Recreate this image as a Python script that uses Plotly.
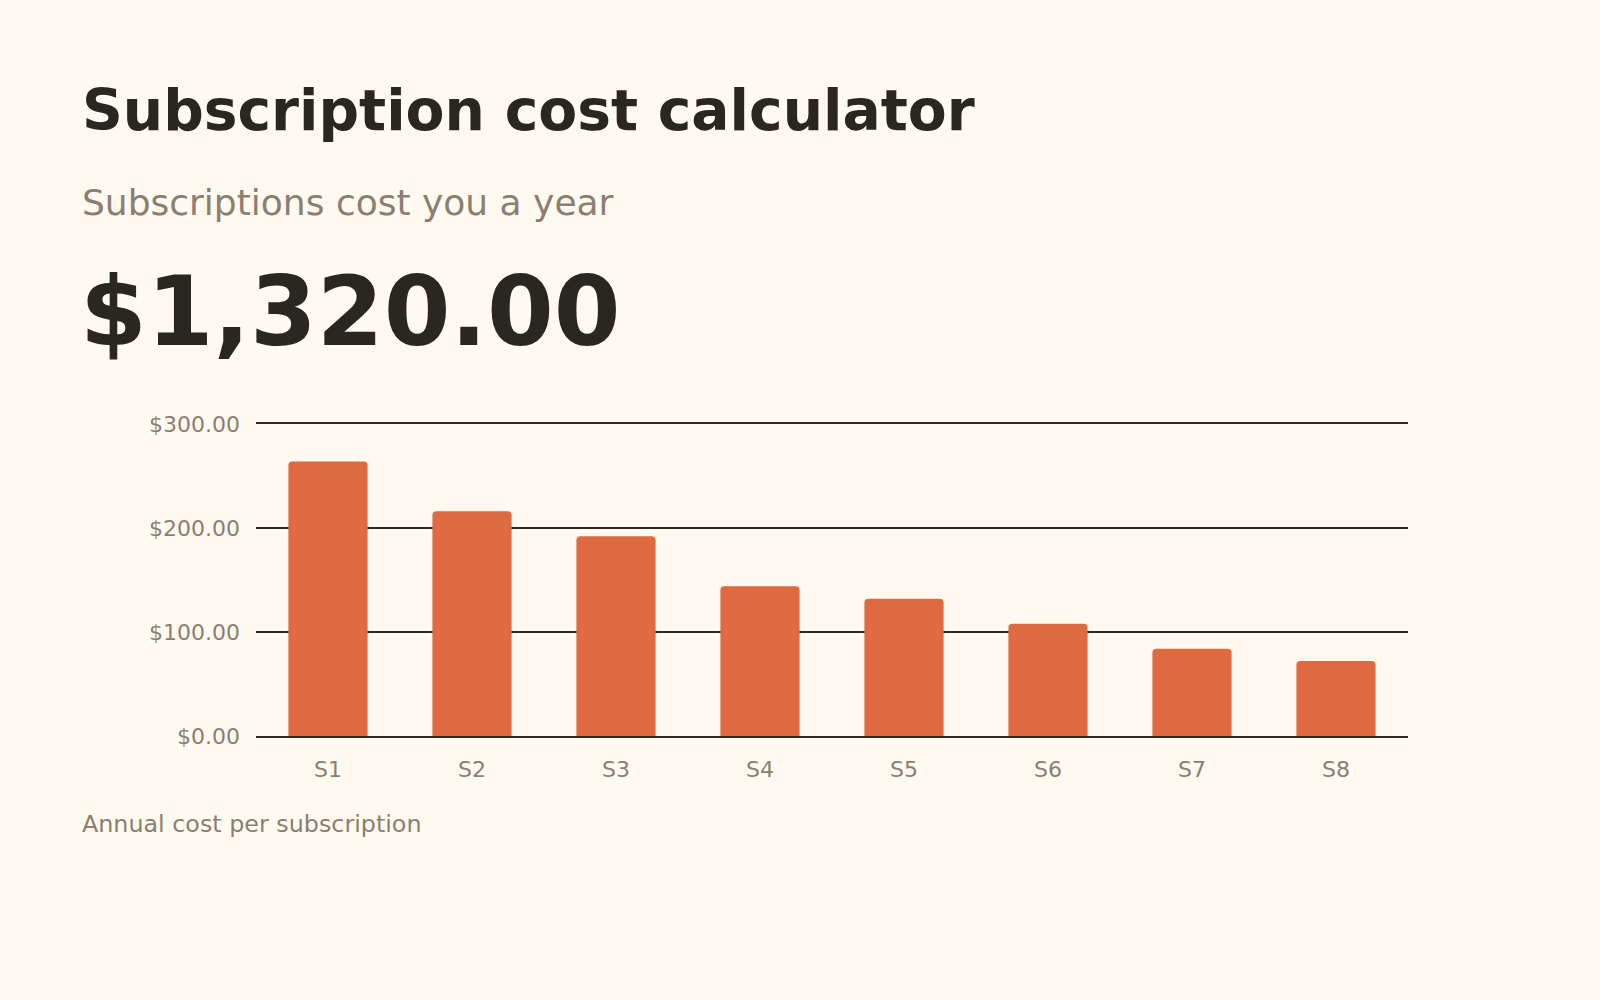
import plotly.graph_objects as go

categories = ["S1", "S2", "S3", "S4", "S5", "S6", "S7", "S8"]
annual_cost = [264, 216, 192, 144, 132, 108, 84, 72]
y_ticks = [0, 100, 200, 300]
y_tick_labels = ["$0.00", "$100.00", "$200.00", "$300.00"]

title_text = "Subscription cost calculator"
subtitle_text = "Subscriptions cost you a year"
total_text = "$1,320.00"
caption_text = "Annual cost per subscription"

BG = "#FFFAEF"
INK = "#2A2620"
MUTED = "#8A7F72"
BAR = "#E06A3F"
FONT = "DejaVu Sans"

fig = go.Figure(
    go.Bar(
        x=categories,
        y=annual_cost,
        marker=dict(color=BAR, cornerradius=4, line=dict(width=0)),
        hoverinfo="skip",
    )
)

W, H = 1600, 1000
L, R, T, B = 256, 192, 424, 264
plot_h = H - T - B
plot_w = W - L - R


def py(p):
    return (H - B - p) / plot_h


def px(p):
    return (p - L) / plot_w


fig.update_layout(
    width=W,
    height=H,
    margin=dict(l=L, r=R, t=T, b=B, pad=0),
    paper_bgcolor=BG,
    plot_bgcolor=BG,
    bargap=0.45,
    showlegend=False,
    font=dict(family=FONT, color=MUTED),
    xaxis=dict(
        showgrid=False,
        showline=True,
        mirror=True,
        linecolor=INK,
        linewidth=2,
        zeroline=False,
        ticks="",
        tickfont=dict(size=22, color=MUTED),
        ticklabelstandoff=13,
    ),
    yaxis=dict(
        range=[0, 300],
        tickvals=y_ticks,
        ticktext=y_tick_labels,
        showgrid=True,
        gridcolor=INK,
        gridwidth=2,
        zeroline=False,
        showline=False,
        ticks="",
        tickfont=dict(size=22, color=MUTED),
        ticklabelstandoff=15,
    ),
    annotations=[
        dict(text=f"<b>{title_text}</b>", xref="paper", yref="paper",
             x=px(80), y=py(110), xanchor="left", yanchor="middle",
             showarrow=False, font=dict(size=56.7, color=INK, family=FONT)),
        dict(text=subtitle_text, xref="paper", yref="paper",
             x=px(80), y=py(202), xanchor="left", yanchor="middle",
             showarrow=False, font=dict(size=36, color=MUTED, family=FONT)),
        dict(text=f"<b>{total_text}</b>", xref="paper", yref="paper",
             x=px(78), y=py(312), xanchor="left", yanchor="middle",
             showarrow=False, font=dict(size=96, color=INK, family=FONT)),
        dict(text=caption_text, xref="paper", yref="paper",
             x=px(80), y=py(824), xanchor="left", yanchor="middle",
             showarrow=False, font=dict(size=23.8, color=MUTED, family=FONT)),
    ],
)

fig.write_html(
    "out.html",
    config={"displayModeBar": False},
    post_script=(
        "document.body.style.margin='0';"
        f"document.body.style.background='{BG}';"
    ),
)
